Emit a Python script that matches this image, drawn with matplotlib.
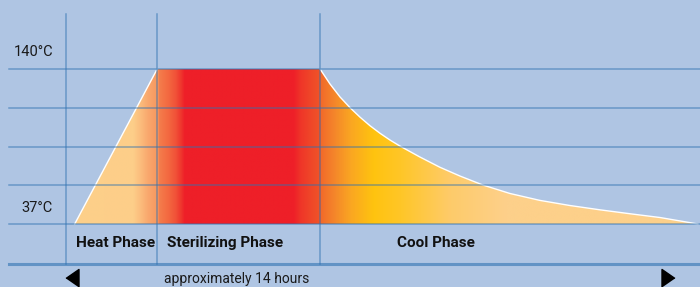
import numpy as np
import matplotlib
matplotlib.use("Agg")
import matplotlib.pyplot as plt
from matplotlib.colors import LinearSegmentedColormap
from matplotlib.patches import Polygon

plt.rcParams['font.family'] = ['Roboto', 'DejaVu Sans']

# temperature levels shown on the left
temp_labels = ["140°C", "37°C"]
temp_low, temp_high = 37, 140

# phase boundaries (hours)
phase_edges = [0.0, 2.1, 5.85]
phase_names = ["Heat Phase", "Sterilizing Phase", "Cool Phase"]

# heat-up ramp
heat_t = [0.2, 2.1]
heat_T = [37, 140]

# cooling curve
cool_t = [5.85, 6.08, 6.31, 6.54, 6.77, 7.00, 7.23, 7.46, 7.69, 8.15,
          8.61, 9.07, 9.60, 10.22, 10.91, 11.60, 12.30, 12.99, 13.68, 14.55]
cool_T = [140, 130.0, 121.4, 114.3, 108.0, 102.3, 97.3, 92.8, 88.8, 81.5,
          74.7, 68.9, 62.9, 57.3, 52.7, 49.3, 46.4, 43.8, 41.3, 37]

# colour ramp along the time axis
grad_t = [0.18, 1.54, 1.73, 1.89, 2.107, 2.13, 2.33, 2.51, 2.62, 2.72,
          5.23, 5.39, 5.62, 5.84, 5.86, 6.19, 6.54, 7.07, 7.69, 8.84, 10.11, 14.6]
grad_c = ['#FDD08A', '#FDCE89', '#FBB97A', '#F9A66C', '#F7975E', '#F47D4C',
          '#F36A41', '#F15238', '#EF3A2F', '#EE1F28', '#EE1F28', '#EF3529',
          '#EF4628', '#F05428', '#F26A2B', '#F5882A', '#FAA622', '#FFC30F',
          '#FFC627', '#FECB6A', '#FDD08A', '#FDD08A']

bg = '#AFC5E3'
line_c = '#2F72B1'

# pixel <-> data scale: 14 h over 608 px, 103 degC over 155 px
h_px = 14 / 608
c_px = 103 / 155

fig = plt.figure(figsize=(7, 2.87), dpi=100, facecolor=bg)
ax = fig.add_axes([0, 0, 1, 1])
ax.set_facecolor(bg)
ax.set_xlim(-66 * h_px, 634 * h_px)
ax.set_ylim(temp_low - 63 * c_px, temp_low + 224 * c_px)
ax.axis('off')

x_left = -57 * h_px
x_right = 634 * h_px
y_top = temp_low + 210 * c_px
y_base = temp_low - 40 * c_px

# filled profile with gradient
outline = list(zip(heat_t, heat_T)) + list(zip(cool_t, cool_T))
outline.append((heat_t[0], temp_low))
poly = Polygon(outline, closed=True, facecolor='none', edgecolor='none')
ax.add_patch(poly)

pos = [(t - grad_t[0]) / (grad_t[-1] - grad_t[0]) for t in grad_t]
cmap = LinearSegmentedColormap.from_list('steril', list(zip(pos, grad_c)), N=1024)
ramp = np.linspace(0, 1, 1400).reshape(1, -1)
img = ax.imshow(ramp, cmap=cmap, aspect='auto', interpolation='bilinear',
                extent=[grad_t[0], grad_t[-1], temp_low, temp_high], zorder=1)
img.set_clip_path(poly)

ax.plot(heat_t, heat_T, color='white', lw=1.0, zorder=2)
ax.plot(cool_t, cool_T, color='white', lw=1.0, zorder=2)

# grid
for T in np.linspace(temp_low, temp_high, 5):
    ax.plot([x_left, x_right], [T, T], color=line_c, alpha=0.55, lw=1.1, zorder=3)
for t in phase_edges:
    ax.plot([t, t], [y_base, y_top], color=line_c, alpha=0.55, lw=1.1, zorder=3)
ax.plot([x_left, x_right], [y_base, y_base], color=line_c, alpha=0.6, lw=2.2, zorder=3)

# temperature labels
ax.text(-13 * h_px, temp_high + 17 * c_px, temp_labels[0], ha='right', va='center',
        fontsize=10.5, color='#1a1a1a')
ax.text(-13 * h_px, temp_low + 16 * c_px, temp_labels[1], ha='right', va='center',
        fontsize=10.5, color='#1a1a1a')

# phase labels
label_x = [phase_edges[0] + 10 * h_px, phase_edges[1] + 10 * h_px, phase_edges[2] + 77 * h_px]
for x, name in zip(label_x, phase_names):
    ax.text(x, temp_low - 19 * c_px, name, ha='left', va='center',
            fontsize=11, fontweight='bold', color='#111111')

# duration arrow
y_arrow = temp_low - 54 * c_px
left_tri = [(-0.72, 0), (0.72, 1), (0.72, -1)]
right_tri = [(0.72, 0), (-0.72, 1), (-0.72, -1)]
ax.plot([5.5 * h_px], [y_arrow], marker=left_tri, markersize=13, color='black',
        linestyle='none', clip_on=False)
ax.plot([601.5 * h_px], [y_arrow], marker=right_tri, markersize=13, color='black',
        linestyle='none', clip_on=False)
ax.text(98 * h_px, temp_low - 55 * c_px, "approximately 14 hours", ha='left', va='center',
        fontsize=10, color='#1a1a1a')

fig.savefig('out.png', dpi=100, facecolor=bg)
